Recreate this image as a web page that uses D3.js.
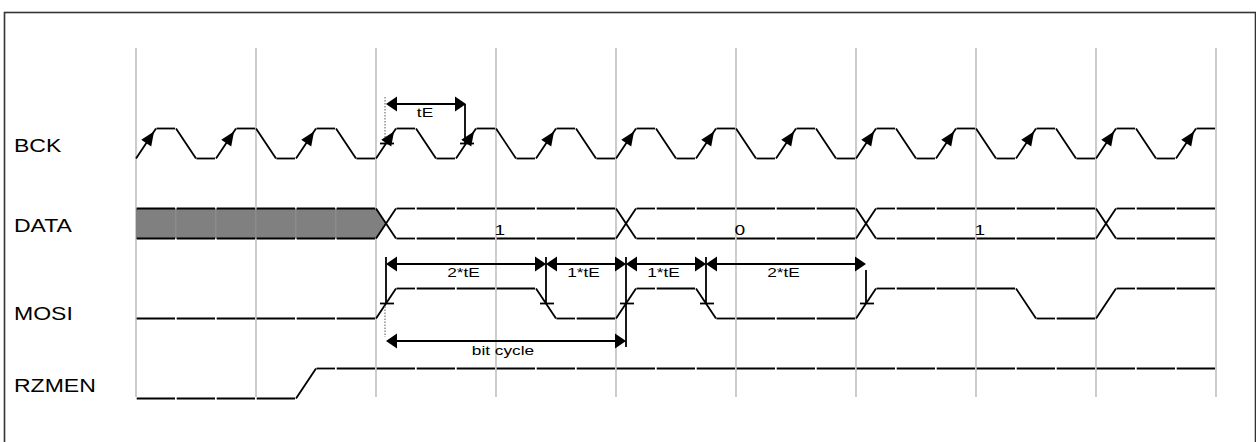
<!DOCTYPE html>
<html><head><meta charset="utf-8">
<script src="https://cdn.jsdelivr.net/npm/d3@7"></script>
<style>html,body{margin:0;padding:0;background:#fff;overflow:hidden}</style>
</head><body><svg id="c" width="1256" height="442"></svg>
<script>
// ---- data ----
const signals = ["BCK", "DATA", "MOSI", "RZMEN"];
const stepCount = 27;                       // 40px steps from 136 to 1216
const bckInitial = 0;
const bckLevels = [1,0,1,0,1,0,1,0,1,0,1,0,1,0,1,0,1,0,1,0,1,0,1,0,1,0,1];
const mosiInitial = 0;
const mosiLevels = [0,0,0,0,0,0,1,1,1,1,0,0,1,1,0,0,0,0,1,1,1,1,0,0,1,1,1];
const rzmenInitial = 0;
const rzmenLevels = [0,0,0,0,1,1,1,1,1,1,1,1,1,1,1,1,1,1,1,1,1,1,1,1,1,1,1];
const dataStarts = [0, 6, 12, 18, 24];      // step index where each bus value begins
const dataLabels = ["x", "1", "0", "1", ""];
const gridEvery = 6;                        // half-step units between grid lines
// annotation times (half-step units)
const tEMarks = [12.5, 16.5];
const tELabel = "tE";
const mosiMarks = [12.5, 20.5, 24.5, 28.5, 36.5];
const mosiLabels = ["2*tE", "1*tE", "1*tE", "2*tE"];
const bitCycleMarks = [12.5, 24.5];
const bitCycleLabel = "bit cycle";

// ---- scales ----
const svg = d3.select("#c");
const x = d3.scaleLinear().domain([0, stepCount * 2]).range([136, 1216]);
const yRow = d3.scalePoint().domain(signals).range([143.5, 383.5]);
const yLev = d3.scaleLinear().domain([0, 1]).range([15, -15]);
const FONT = "'Liberation Sans', Arial, Helvetica, sans-serif";
const SX = 1.28;

const frameG = svg.append("g");
const gridG = svg.append("g");
const fillG = svg.append("g");
const wG = svg.append("g").attr("stroke", "#000").attr("stroke-width", 1.8).attr("fill", "none");
const aG = svg.append("g").attr("stroke", "#000").attr("stroke-width", 1.8);
const headG = svg.append("g").attr("fill", "#000");
const txtG = svg.append("g");

// frame
frameG.append("rect").attr("x", 4.5).attr("y", 12.5).attr("width", 1251).attr("height", 460)
  .attr("fill", "none").attr("stroke", "#333").attr("stroke-width", 1.6);

// grid
gridG.selectAll("line").data(d3.range(0, stepCount * 2 + 1, gridEvery)).join("line")
  .attr("x1", d => x(d)).attr("x2", d => x(d)).attr("y1", 48).attr("y2", 397)
  .attr("stroke", "#c0c0c0").attr("stroke-width", 1.6);

function addText(g, px, py, str, size, anchor) {
  return g.append("text").attr("transform", `translate(${px},${py}) scale(${SX},1)`)
    .attr("font-family", FONT).attr("font-size", size).attr("text-anchor", anchor || "start")
    .attr("fill", "#000").text(str);
}

// labels
const labelBase = {BCK: 8.5, DATA: 8.5, MOSI: 16, RZMEN: 8.5};
signals.forEach(s => addText(txtG, 14, yRow(s) + labelBase[s], s, 18));

function seg(g, x1, y1, x2, y2) {
  g.append("line").attr("x1", x1).attr("y1", y1).attr("x2", x2).attr("y2", y2);
}

function drawBinary(name, levels, initial, withArrows) {
  const cy = yRow(name);
  let prev = initial;
  levels.forEach((lv, i) => {
    const u0 = i * 2;
    const yp = cy + yLev(prev), yn = cy + yLev(lv);
    if (lv !== prev) {
      seg(wG, x(u0), yp, x(u0 + 1), yn);
      seg(wG, x(u0 + 1) + 0.5, yn, x(u0 + 2) - 1, yn);
      if (withArrows && lv > prev) {
        const x0 = x(u0), x1 = x(u0 + 1);
        const dx = x1 - x0, dy = yn - yp, len = Math.hypot(dx, dy);
        const ux = dx / len, uy = dy / len;
        const tx = x0 + dx * 0.9, ty = yp + dy * 0.9;
        const L = 14, H = 6;
        const bx = tx - ux * L, by = ty - uy * L;
        const pts = [[tx, ty], [bx - uy * H, by + ux * H], [bx + uy * H, by - ux * H]];
        headG.append("polygon").attr("points", pts.map(p => p.join(",")).join(" "));
      }
    } else {
      seg(wG, x(u0) + 0.7, yn, x(u0 + 2) - 1, yn);
    }
    prev = lv;
  });
}
drawBinary("BCK", bckLevels, bckInitial, true);
drawBinary("MOSI", mosiLevels, mosiInitial, false);
drawBinary("RZMEN", rzmenLevels, rzmenInitial, false);

// DATA bus
(function () {
  const cy = yRow("DATA"), top = cy + yLev(1), bot = cy + yLev(0);
  for (let k = 0; k < dataLabels.length; k++) {
    if (dataLabels[k] !== "x") continue;
    const u0 = dataStarts[k] * 2, u1 = dataStarts[k + 1] * 2;
    fillG.append("polygon").attr("points",
      `${x(u0)},${top} ${x(u1)},${top} ${x(u1 + 0.5)},${cy} ${x(u1)},${bot} ${x(u0)},${bot}`)
      .attr("fill", "#808080");
    for (let u = u0 + 2; u < u1; u += 2) {
      fillG.append("line").attr("x1", x(u) - 0.2).attr("x2", x(u) - 0.2).attr("y1", top).attr("y2", bot)
        .attr("stroke", "#999").attr("stroke-width", 0.7);
    }
  }
  for (let i = 0; i < stepCount; i++) {
    const k = d3.bisectRight(dataStarts, i) - 1;
    const u0 = i * 2;
    const isStart = dataStarts[k] === i && i > 0;
    if (isStart) {
      seg(wG, x(u0), top, x(u0 + 1), bot);
      seg(wG, x(u0), bot, x(u0 + 1), top);
      seg(wG, x(u0 + 1) + 0.5, top, x(u0 + 2) - 1, top);
      seg(wG, x(u0 + 1) + 0.5, bot, x(u0 + 2) - 1, bot);
    } else {
      seg(wG, x(u0) + 0.7, top, x(u0 + 2) - 1, top);
      seg(wG, x(u0) + 0.7, bot, x(u0 + 2) - 1, bot);
    }
  }
  dataLabels.forEach((lab, k) => {
    if (lab === "x" || lab === "") return;
    const mid = (dataStarts[k] * 2 + dataStarts[k + 1] * 2) / 2;
    addText(txtG, x(mid) - 1.5, cy + 11, lab, 15);
  });
})();

// ---- annotations ----
const AL = 11, AH = 7.5;
function head(tipX, tipY, dir) {
  headG.append("polygon").attr("points",
    `${tipX},${tipY} ${tipX - dir * AL},${tipY - AH} ${tipX - dir * AL},${tipY + AH}`);
}
function dimArrow(u1, u2, yy) {
  const a = x(u1), b = x(u2);
  seg(aG, a + 2, yy, b - 2, yy);
  head(a, yy, -1);
  head(b, yy, 1);
}
function tick(u, yy) { seg(aG, x(u) - 6, yy, x(u) + 8, yy); }
function dotted(u, y1, y2) {
  aG.append("line").attr("x1", x(u) - 1).attr("x2", x(u) - 1).attr("y1", y1).attr("y2", y2)
    .attr("stroke", "#888").attr("stroke-width", 1.4).attr("stroke-dasharray", "1.5,1.5");
}

// tE on BCK
const bckMid = yRow("BCK");
dotted(tEMarks[0], 97, bckMid);
dimArrow(tEMarks[0], tEMarks[1], 104);
seg(aG, x(tEMarks[1]) - 1, 104, x(tEMarks[1]) - 1, bckMid);
tEMarks.forEach(u => tick(u, bckMid));
addText(txtG, (x(tEMarks[0]) + x(tEMarks[1])) / 2 - 1, 117, tELabel, 13.5, "middle");

// MOSI measurements
const mosiMid = yRow("MOSI");
const vTop = [257, 257, 257, 257, 270];
mosiMarks.forEach((u, i) => {
  const yEnd = (u === bitCycleMarks[1]) ? 347 : mosiMid;
  seg(aG, x(u), vTop[i], x(u), yEnd);
  tick(u, mosiMid);
});
for (let i = 0; i < mosiLabels.length; i++) {
  dimArrow(mosiMarks[i], mosiMarks[i + 1], 264);
  addText(txtG, (x(mosiMarks[i]) + x(mosiMarks[i + 1])) / 2 - 2.5, 277, mosiLabels[i], 13.5, "middle");
}
dotted(bitCycleMarks[0], mosiMid + 3, 337);
dimArrow(bitCycleMarks[0], bitCycleMarks[1], 341);
addText(txtG, (x(bitCycleMarks[0]) + x(bitCycleMarks[1])) / 2 - 3, 355, bitCycleLabel, 13.5, "middle");
</script>
</body></html>
